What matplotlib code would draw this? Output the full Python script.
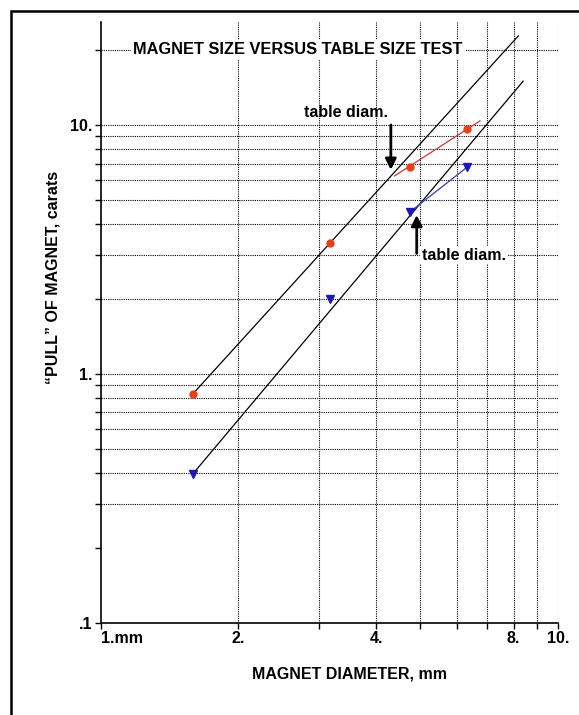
import matplotlib
matplotlib.use("Agg")
import matplotlib.pyplot as plt
from matplotlib.patches import Rectangle

plt.rcParams["font.family"] = ["Liberation Sans", "DejaVu Sans"]
plt.rcParams["font.weight"] = "bold"

# magnet diameters (mm) and measured pull (carats)
diam = [1.59, 3.17, 4.75, 6.34]
pull_red = [0.83, 3.35, 6.80, 9.63]
pull_blue = [0.396, 1.99, 4.48, 6.75]

# straight fit lines (end points)
fit_red_x = [1.59, 8.19]
fit_red_y = [0.83, 22.8]
fit_blue_x = [1.59, 8.39]
fit_blue_y = [0.396, 15.0]

# short lines through the two largest magnets
seg_red_x = [4.39, 6.75]
seg_red_y = [6.24, 10.38]
seg_blue_x = [4.75, 6.38]
seg_blue_y = [4.48, 6.85]

x_ticks = [1, 2, 3, 4, 5, 6, 7, 8, 9, 10]
x_labels = ["1.mm", "2.", "", "4.", "", "", "", "8.", "", "10."]
y_ticks = [0.1, 0.2, 0.3, 0.4, 0.5, 0.6, 0.7, 0.8, 0.9,
           1, 2, 3, 4, 5, 6, 7, 8, 9, 10, 20]
y_labels = [".1"] + [""] * 8 + ["1."] + [""] * 8 + ["10.", ""]
x_grid = [2, 3, 4, 5, 6, 7, 8, 9, 10]
y_grid = [0.3, 0.4, 0.5, 0.6, 0.7, 0.8, 0.9, 1, 2, 3, 4, 5, 6, 7, 8, 9, 10, 20]

W, H = 579, 715
fig = plt.figure(figsize=(W / 100, H / 100), dpi=100)
ax = fig.add_axes([100.7 / W, 1 - 622.7 / H, (558 - 100.7) / W, (622.7 - 21.7) / H])
ax.set_xscale("log")
ax.set_yscale("log")
ax.set_xlim(1, 10)
ax.set_ylim(0.1, 26)

for s in ["top", "right"]:
    ax.spines[s].set_visible(False)
for s in ["left", "bottom"]:
    ax.spines[s].set_linewidth(1.2)

ax.set_xticks(x_ticks)
ax.set_xticklabels(x_labels)
ax.set_yticks(y_ticks)
ax.set_yticklabels(y_labels)
ax.minorticks_off()
ax.tick_params(axis="both", direction="out", length=4, width=1, labelsize=11.5, pad=2)
for lab in ax.get_xticklabels() + ax.get_yticklabels():
    lab.set_fontweight("bold")
first = ax.get_xticklabels()[0]
first.set_horizontalalignment("left")
first.set_x(0.985)

ax.vlines(x_grid, 0.1, 26, colors="black", linestyles=(0, (1, 1)), linewidth=0.8, zorder=1)
ax.hlines(y_grid, 1, 10, colors="black", linestyles=(0, (1, 1)), linewidth=0.8, zorder=1)

ax.plot(fit_red_x, fit_red_y, color="black", linewidth=0.9, zorder=3)
ax.plot(fit_blue_x, fit_blue_y, color="black", linewidth=0.9, zorder=3)
ax.plot(seg_red_x, seg_red_y, color="#c84848", linewidth=1.0, zorder=3)
ax.plot(seg_blue_x, seg_blue_y, color="#4848b0", linewidth=1.0, zorder=3)
ax.plot(diam, pull_red, "o", color="#e8401c", markersize=5, zorder=4)
ax.plot(diam, pull_blue, "v", color="#1a1ab4", markersize=5.5, zorder=4)

ax.text(298 / W, 1 - 50 / H, "MAGNET SIZE VERSUS TABLE SIZE TEST", transform=fig.transFigure,
        ha="center", va="center", fontsize=11.8, fontweight="bold",
        bbox=dict(facecolor="white", edgecolor="none", pad=2), zorder=5)

ax.text(4.25, 11.2, "table diam.", ha="right", va="center", fontsize=11.5, fontweight="bold")
ax.annotate("", xy=(4.31, 6.6), xytext=(4.31, 10.0),
            arrowprops=dict(arrowstyle="-|>", color="black", lw=2, mutation_scale=16,
                            shrinkA=0, shrinkB=0), zorder=5)
ax.text(5.04, 3.0, "table diam.", ha="left", va="center", fontsize=11.5, fontweight="bold",
        bbox=dict(facecolor="white", edgecolor="none", pad=1), zorder=5)
ax.annotate("", xy=(4.91, 4.35), xytext=(4.91, 3.05),
            arrowprops=dict(arrowstyle="-|>", color="black", lw=2, mutation_scale=16,
                            shrinkA=0, shrinkB=0), zorder=5)

fig.text(349 / W, 1 - 674 / H, "MAGNET DIAMETER, mm", ha="center", va="center",
         fontsize=11.5, fontweight="bold")
fig.text(53 / W, 1 - 277 / H, "\u201cPULL\u201d OF MAGNET, carats", ha="center", va="center",
         rotation=90, fontsize=11.5, fontweight="bold")

fig.patches.append(Rectangle((11 / W, -0.1), 1.2, 1 - 11 / H + 0.1, transform=fig.transFigure,
                             fill=False, edgecolor="black", linewidth=1.8))

fig.savefig("out.png", dpi=100)
